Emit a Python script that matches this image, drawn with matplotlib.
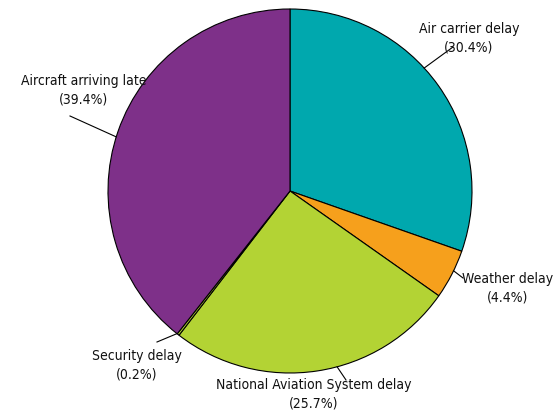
import numpy as np
import matplotlib.pyplot as plt

labels = ["Air carrier delay", "Weather delay", "National Aviation System delay",
          "Security delay", "Aircraft arriving late"]
shares = [30.4, 4.4, 25.7, 0.2, 39.4]
colors = ["#00A8AE", "#F6A01C", "#B3D334", "#B3D334", "#7E3089"]

# label block centre, leader line end (pixels from top left) and where the leader meets the pie
text_pos = [(469, 38), (508, 288), (314, 394), (137, 365), (84, 90)]
line_end = [(453, 47), (463, 278), (346, 380), (157, 342), (70, 116)]
edge_angle = [42.5, -26, -75, -128.4, 162.7]

W, H = 557, 412

fig = plt.figure(figsize=(W / 100, H / 100), dpi=100)
ax = fig.add_axes([0, 0, 1, 1])
cx, cy, r = 290, H - 191, 182
wedges, _ = ax.pie(shares, colors=colors, startangle=90, counterclock=False,
                   center=(cx, cy), radius=r,
                   wedgeprops=dict(edgecolor="black", linewidth=0.8))
ax.set_xlim(0, W)
ax.set_ylim(0, H)
ax.set_aspect("equal")
ax.axis("off")

for lab, val, (tx, ty), (ex, ey), a in zip(labels, shares, text_pos, line_end, edge_angle):
    a = np.deg2rad(a)
    sx, sy = cx + r * np.cos(a), cy + r * np.sin(a)
    ax.plot([sx, ex], [sy, H - ey], color="black", lw=0.8)
    ax.text(tx, H - ty, f"{lab}\n({val}%)", ha="center", va="center", color="#111111",
            fontsize=10, family="DejaVu Sans", stretch="condensed", linespacing=1.38)

fig.savefig("out.png", dpi=100)
